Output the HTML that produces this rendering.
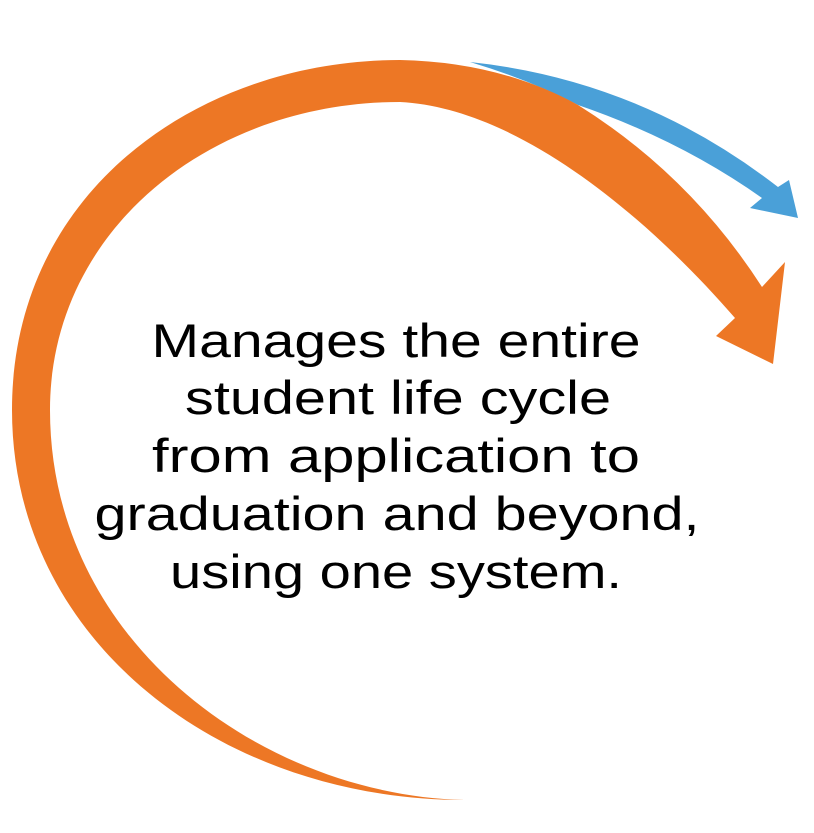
<!DOCTYPE html>
<html><head><meta charset="utf-8"><style>
html,body{margin:0;padding:0;background:#fff;}
svg{display:block;}
</style></head><body>
<svg width="814" height="833" viewBox="0 0 814 833" xmlns="http://www.w3.org/2000/svg">
<path fill="#4aa0d8" d="M470,62 Q640,80 778,187 L789,180 L798,218 L750,208 L762,198 Q680,140 578,105 Q530,80 470,62 Z"/>
<path fill="#ed7725" d="M465,800 C220,800 12,640 12,410 C12,190 200,60 400,60 Q500,62 578,105 Q690,175 762,287 L785,262 L773,364 L716,336 L735,318 C650,220 520,108 400,102 C210,102 50,230 50,410 C50,640 260,795 465,800 Z"/>
<g font-family="Liberation Sans, sans-serif" font-size="47" fill="#000" text-anchor="middle">
<text x="396" y="357" textLength="489" lengthAdjust="spacingAndGlyphs">Manages the entire</text>
<text x="398" y="414" textLength="426" lengthAdjust="spacingAndGlyphs">student life cycle</text>
<text x="396" y="472" textLength="488" lengthAdjust="spacingAndGlyphs">from application to</text>
<text x="397" y="530" textLength="605" lengthAdjust="spacingAndGlyphs">graduation and beyond,</text>
<text x="396" y="588" textLength="452" lengthAdjust="spacingAndGlyphs">using one system.</text>
</g>
</svg>
</body></html>
